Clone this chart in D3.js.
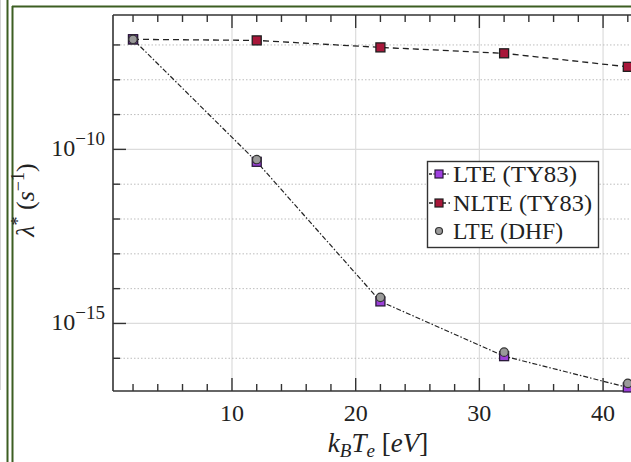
<!DOCTYPE html>
<html><head><meta charset="utf-8">
<script src="https://cdn.jsdelivr.net/npm/d3@7"></script>
<style>
html,body{margin:0;padding:0;background:#fff;}
svg{display:block;}
text{font-family:"Liberation Serif","Times New Roman",serif;fill:#222;}
</style></head>
<body>
<script>
const temps = [2, 12, 22, 32, 42];
const lteTY83 = [1.45e-7, 4.4e-11, 4.3e-15, 1.15e-16, 1.45e-17];
const nlteTY83 = [1.45e-7, 1.35e-7, 8.5e-8, 5.75e-8, 2.35e-8];
const lteDHF = [1.45e-7, 5.1e-11, 5.6e-15, 1.5e-16, 1.9e-17];
const xMajorTicks = [10, 20, 30, 40];
const xMinorTicks = [2,4,6,8,12,14,16,18,22,24,26,28,32,34,36,38,42,44];
const yDecades = [-7,-8,-9,-10,-11,-12,-13,-14,-15,-16];
const yLabelled = [-10, -15];
const legendLabels = ["LTE (TY83)", "NLTE (TY83)", "LTE (DHF)"];

const W = 631, H = 462;
const svg = d3.select("body").append("svg").attr("width", W).attr("height", H);

// page frame decorations
svg.append("line").attr("x1",0.5).attr("x2",0.5).attr("y1",0).attr("y2",390).attr("stroke","#d4d4d4").attr("stroke-width",1);
svg.append("line").attr("x1",7.5).attr("x2",7.5).attr("y1",0).attr("y2",H).attr("stroke","#3d5e22").attr("stroke-width",2);
svg.append("line").attr("x1",12.5).attr("x2",12.5).attr("y1",6).attr("y2",H).attr("stroke","#3d5e22").attr("stroke-width",2);
svg.append("line").attr("x1",12).attr("x2",W).attr("y1",6.5).attr("y2",6.5).attr("stroke","#3d5e22").attr("stroke-width",2);

const L = 113, T = 15, B = 391;
const x = d3.scaleLinear().domain([0, 42]).range([108.3, 627.8]);
const y = d3.scaleLog().domain([Math.pow(10,-16.94), Math.pow(10,-6.14)]).range([B, T]);

const g = svg.append("g");

// grid
g.selectAll(".vg").data(xMajorTicks).join("line")
  .attr("x1", d=>x(d)).attr("x2", d=>x(d)).attr("y1", T).attr("y2", B)
  .attr("stroke", "#dcdcdc").attr("stroke-width", 1.2);
g.selectAll(".hg").data(yDecades).join("line")
  .attr("x1", L).attr("x2", W).attr("y1", d=>y(Math.pow(10,d))).attr("y2", d=>y(Math.pow(10,d)))
  .attr("stroke", d=>yLabelled.includes(d) ? "#dcdcdc" : "#bdbdbd")
  .attr("stroke-width", d=>yLabelled.includes(d) ? 1.2 : 1)
  .attr("stroke-dasharray", d=>yLabelled.includes(d) ? null : "1.5,2");

// axes ticks (inward)
const axisCol = "#333";
const xAll = xMajorTicks.map(v=>({v, major:true})).concat(xMinorTicks.map(v=>({v, major:false})));
[B, T].forEach((yy, i) => {
  g.selectAll(null).data(xAll.filter(d=>x(d.v) > L && x(d.v) < W)).join("line")
    .attr("x1", d=>x(d.v)).attr("x2", d=>x(d.v))
    .attr("y1", yy).attr("y2", d=> i===0 ? yy - (d.major?13:7) : yy + (d.major?13:7))
    .attr("stroke", axisCol).attr("stroke-width", 1.4);
});
g.selectAll(null).data(yDecades).join("line")
  .attr("x1", L).attr("x2", d=>L + (yLabelled.includes(d)?13:7))
  .attr("y1", d=>y(Math.pow(10,d))).attr("y2", d=>y(Math.pow(10,d)))
  .attr("stroke", axisCol).attr("stroke-width", 1.4);

// spines
g.append("line").attr("x1",L).attr("x2",W).attr("y1",B).attr("y2",B).attr("stroke",axisCol).attr("stroke-width",1.6);
g.append("line").attr("x1",L).attr("x2",W).attr("y1",T).attr("y2",T).attr("stroke",axisCol).attr("stroke-width",1.6);
g.append("line").attr("x1",L).attr("x2",L).attr("y1",T).attr("y2",B).attr("stroke",axisCol).attr("stroke-width",1.6);

// tick labels
g.selectAll(null).data(xMajorTicks).join("text")
  .attr("x", d=>x(d)).attr("y", 421).attr("text-anchor","middle")
  .attr("font-size", 24).attr("textLength", 24).text(d=>d);
yLabelled.forEach(d => {
  const t = g.append("text").attr("x", 105).attr("y", y(Math.pow(10,d)) + 7)
    .attr("text-anchor","end").attr("font-size", 24);
  t.append("tspan").text("10");
  t.append("tspan").attr("dy", -11).attr("font-size", 19).text("\u2212" + Math.abs(d));
});

// axis labels
const xl = svg.append("text").attr("x", 378).attr("y", 452).attr("text-anchor","middle").attr("font-size", 27);
xl.append("tspan").attr("font-style","italic").text("k");
xl.append("tspan").attr("font-style","italic").attr("font-size",19).attr("dy",5).text("B");
xl.append("tspan").attr("font-style","italic").attr("dy",-5).text("T");
xl.append("tspan").attr("font-style","italic").attr("font-size",19).attr("dy",5).text("e");
xl.append("tspan").attr("dy",-5).text(" [");
xl.append("tspan").attr("font-style","italic").text("eV");
xl.append("tspan").text("]");

const yl = svg.append("text").attr("transform","translate(34,200) rotate(-90)").attr("text-anchor","middle").attr("font-size", 26);
yl.append("tspan").attr("font-style","italic").text("\u03bb");
yl.append("tspan").attr("font-size",18).attr("dy",-10).text("*");
yl.append("tspan").attr("dy",10).text(" (");
yl.append("tspan").attr("font-style","italic").text("s");
yl.append("tspan").attr("font-size",18).attr("dy",-10).text("\u22121");
yl.append("tspan").attr("dy",10).text(")");

// lines
const lineGen = arr => d3.line().x((d,i)=>x(temps[i])).y(d=>y(d))(arr);
g.append("path").attr("d", lineGen(nlteTY83)).attr("fill","none").attr("stroke","#222").attr("stroke-width",1.3).attr("stroke-dasharray","6,4");
g.append("path").attr("d", lineGen(lteTY83)).attr("fill","none").attr("stroke","#222").attr("stroke-width",1.2).attr("stroke-dasharray","5,2,1.5,2");

// markers
const sq = 9;
g.selectAll(null).data(nlteTY83).join("rect")
  .attr("x",(d,i)=>x(temps[i])-sq/2).attr("y",d=>y(d)-sq/2).attr("width",sq).attr("height",sq)
  .attr("fill","#a8173a").attr("stroke","#1e1e1e").attr("stroke-width",1.3);
g.selectAll(null).data(lteTY83).join("rect")
  .attr("x",(d,i)=>x(temps[i])-sq/2).attr("y",d=>y(d)-sq/2).attr("width",sq).attr("height",sq)
  .attr("fill","#9b3fd8").attr("stroke","#2a1a3a").attr("stroke-width",1.3);
g.selectAll(null).data(lteDHF).join("circle")
  .attr("cx",(d,i)=>x(temps[i])).attr("cy",d=>y(d)).attr("r",4.2)
  .attr("fill","#9a9a9a").attr("stroke","#333").attr("stroke-width",1.2);

// legend
const lg = svg.append("g");
lg.append("rect").attr("x",427.5).attr("y",161.5).attr("width",171).attr("height",86)
  .attr("fill","#fff").attr("stroke","#333").attr("stroke-width",1.4);
const rows = [174, 203, 231];
const textLens = [124, 139, 110];
const lstyles = [
  {fill:"#a040e0", stroke:"#2a1a3a", dash:true, shape:"sq"},
  {fill:"#a8173a", stroke:"#1e1e1e", dash:true, shape:"sq"},
  {fill:"#9a9a9a", stroke:"#333", dash:false, shape:"c"}
];
legendLabels.forEach((lab, i) => {
  const s = lstyles[i], yy = rows[i];
  if (s.dash) {
    lg.append("line").attr("x1",429).attr("x2",450).attr("y1",yy).attr("y2",yy)
      .attr("stroke","#222").attr("stroke-width",1.3).attr("stroke-dasharray", i===0 ? "3,1.5,1,1.5" : "4,2.5");
  }
  if (s.shape==="sq") {
    lg.append("rect").attr("x",435).attr("y",yy-4).attr("width",8).attr("height",8)
      .attr("fill",s.fill).attr("stroke",s.stroke).attr("stroke-width",1.2);
  } else {
    lg.append("circle").attr("cx",439).attr("cy",yy).attr("r",3.5)
      .attr("fill",s.fill).attr("stroke",s.stroke).attr("stroke-width",1.2);
  }
  lg.append("text").attr("x",453).attr("y",yy+8).attr("font-size",23)
    .attr("textLength", textLens[i]).attr("lengthAdjust","spacingAndGlyphs").text(lab);
});
</script>
</body></html>
